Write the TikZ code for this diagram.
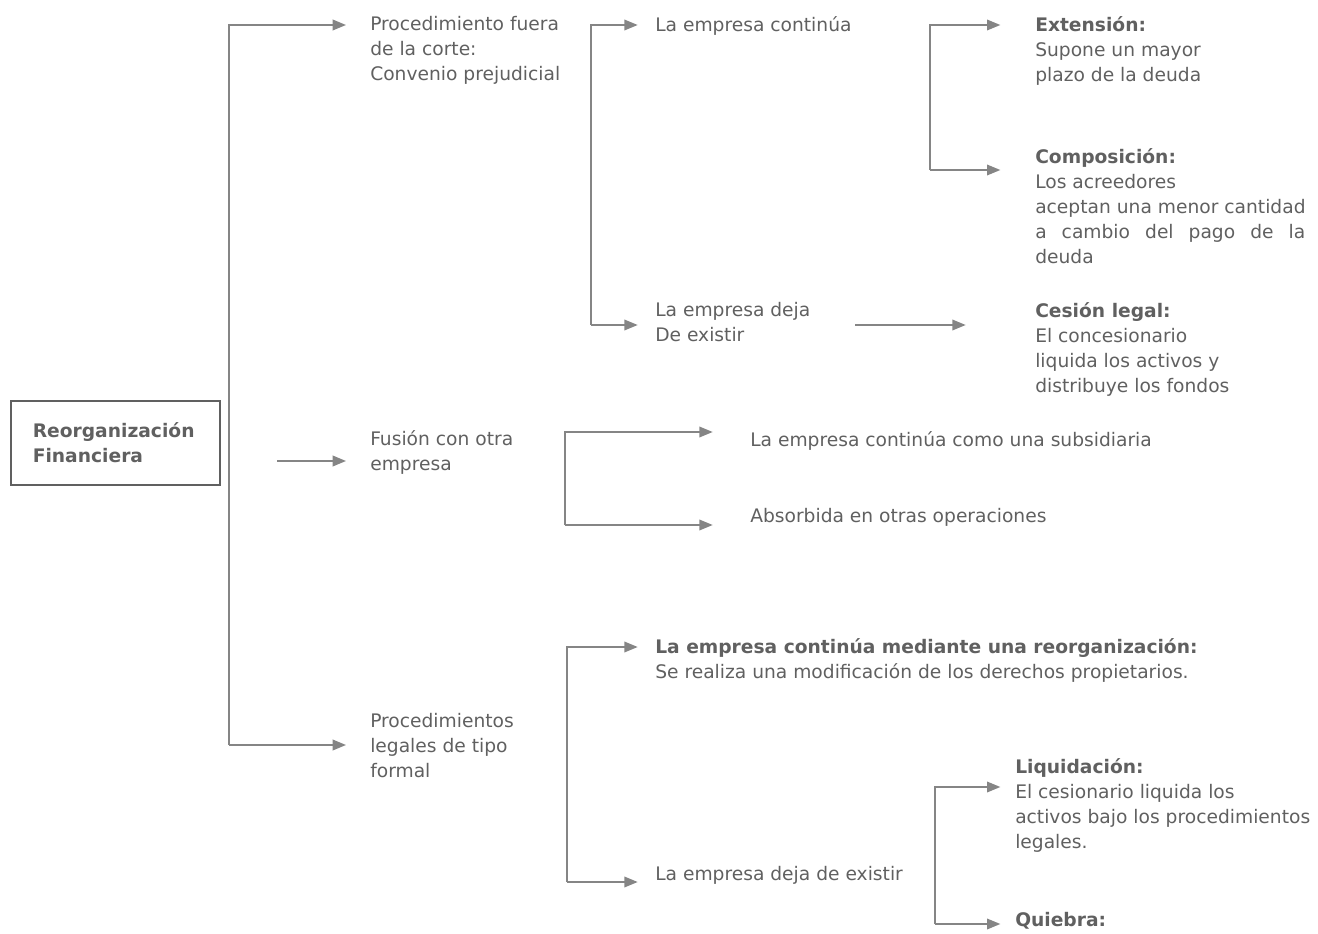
\documentclass[tikz,border=0pt]{standalone}
\usepackage{fontspec}
\setmainfont{DejaVu Sans}
\usetikzlibrary{arrows.meta}
\definecolor{linea}{HTML}{858585}
\definecolor{texto}{HTML}{606060}
\tikzset{
 txt/.style={anchor=north west, inner sep=0pt, align=left, text=texto,
  font=\fontsize{14}{18.75}\selectfont},
 flecha/.style={draw=linea, line width=1.1pt, -{Triangle[length=10pt,width=8pt]},
  shorten >=#1},
 flecha/.default=18pt,
 tramo/.style={draw=linea, line width=1.1pt},
}
\newcommand{\tit}[1]{\textbf{#1}}

\begin{document}
\begin{tikzpicture}[x=0.75pt,y=-0.75pt]
   \useasboundingbox (0,0) rectangle (1318,934);
   % caja principal
   \node[txt, draw=texto, line width=1.2pt, minimum width=209*0.75pt, minimum height=84*0.75pt,
     text width=165*0.75pt, inner xsep=22*0.75pt, anchor=north west] (raiz) at (10,400)
     {\tit{Reorganización}\\\tit{Financiera}};
   % primer nivel
   \node[txt] (procA)  at (370,16)  {Procedimiento fuera\\de la corte:\\Convenio prejudicial};
   \node[txt] (fusion) at (370,430) {Fusión con otra\\empresa};
   \node[txt] (procB)  at (370,713) {Procedimientos\\legales de tipo\\formal};
   % segundo nivel
   \node[txt] (contA)  at (655,16)  {La empresa continúa};
   \node[txt] (dejaA)  at (655,302) {La empresa deja\\De existir};
   \node[txt] (subs)   at (750,431) {La empresa continúa como una subsidiaria};
   \node[txt] (absor)  at (750,508) {Absorbida en otras operaciones};
   \node[txt] (reorg)  at (655,638) {\tit{La empresa continúa mediante una reorganización:}\\Se realiza una modificación de los derechos propietarios.};
   \node[txt] (dejaB)  at (655,866) {La empresa deja de existir};
   % tercer nivel
   \node[txt] (ext)    at (1035,16)  {\tit{Extensión:}\\Supone un mayor\\plazo de la deuda};
   \node[txt] (comp) at (1035,148)
     {\tit{Composición:}\\Los acreedores\\aceptan una menor cantidad\\\makebox[202.5pt][s]{a cambio del pago de la}\\deuda};
   \node[txt] (ces)    at (1035,302) {\tit{Cesión legal:}\\El concesionario\\liquida los activos y\\distribuye los fondos};
   \node[txt] (liq)    at (1015,758) {\tit{Liquidación:}\\El cesionario liquida los\\activos bajo los procedimientos\\legales.};
   \node[txt] (quie)   at (1015,912) {\tit{Quiebra:}};
   % conectores
   \coordinate (k1a) at (229,25);  \coordinate (k1b) at (229,745);
   \coordinate (f0)  at (277,461);
   \coordinate (k2a) at (591,25);  \coordinate (k2b) at (591,325);
   \coordinate (k3a) at (930,25);  \coordinate (k3b) at (930,170);
   \coordinate (c0)  at (855,325);
   \coordinate (k4a) at (565,432); \coordinate (k4b) at (565,525);
   \coordinate (k5a) at (567,647); \coordinate (k5b) at (567,882);
   \coordinate (k6a) at (935,787); \coordinate (k6b) at (935,924);
   \draw[flecha] (k1b) -- (k1a) -- (k1a -| procA.west);
   \draw[flecha] (k1b) -- (k1b -| procB.west);
   \draw[flecha] (f0) -- (f0 -| fusion.west);
   \draw[flecha=13pt] (k2b) -- (k2a) -- (k2a -| contA.west);
   \draw[flecha=13pt] (k2b) -- (k2b -| dejaA.west);
   \draw[flecha=26pt] (k3b) -- (k3a) -- (k3a -| ext.west);
   \draw[flecha=26pt] (k3b) -- (k3b -| comp.west);
   \draw[flecha=52pt] (c0) -- (c0 -| ces.west);
   \draw[flecha=28pt] (k4b) -- (k4a) -- (k4a -| subs.west);
   \draw[flecha=28pt] (k4b) -- (k4b -| absor.west);
   \draw[flecha=13pt] (k5b) -- (k5a) -- (k5a -| reorg.west);
   \draw[flecha=13pt] (k5b) -- (k5b -| dejaB.west);
   \draw[flecha=11pt] (k6b) -- (k6a) -- (k6a -| liq.west);
   \draw[flecha=11pt] (k6b) -- (k6b -| quie.west);
\end{tikzpicture}
\end{document}
